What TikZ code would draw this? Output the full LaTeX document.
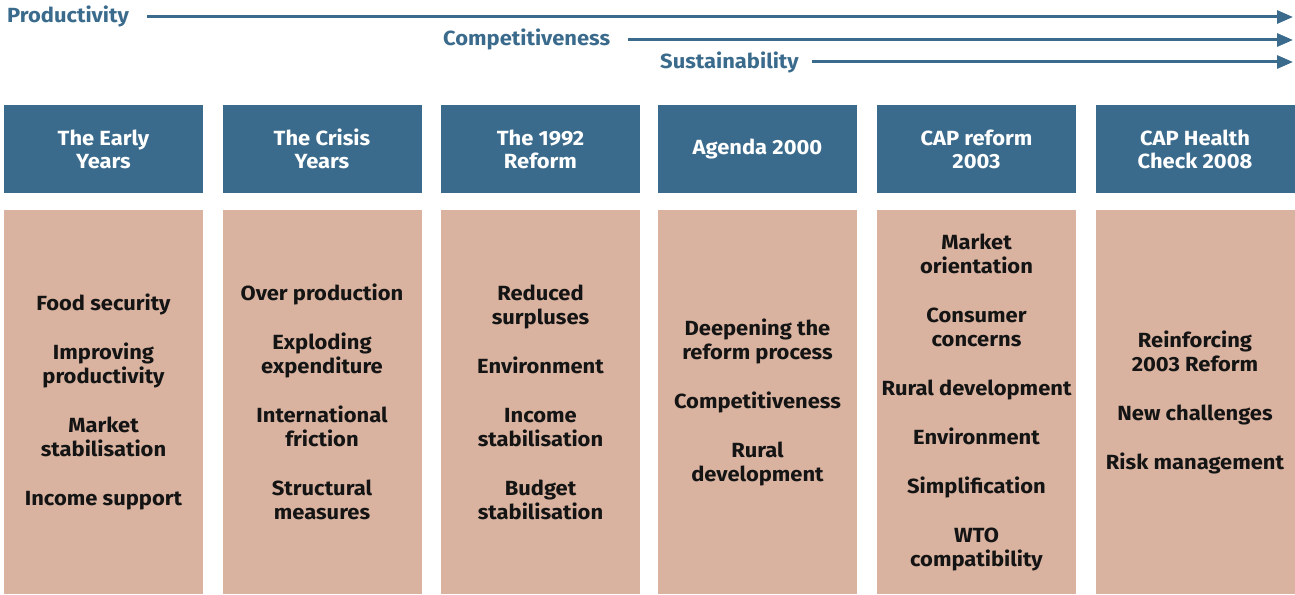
\documentclass[tikz,border=0pt]{standalone}
\usepackage{fontspec}
\setmainfont[FakeStretch=1.07]{Fira Sans}
\usetikzlibrary{arrows.meta}
\definecolor{capblue}{RGB}{59,107,140}
\definecolor{cappink}{RGB}{217,179,160}
\definecolor{captext}{RGB}{20,20,20}
\tikzset{
  headbox/.style={fill=capblue, minimum width=199pt, minimum height=88pt, inner sep=0pt,
    text=white, align=center, font=\bfseries\fontsize{20.5}{23}\selectfont},
  bodybox/.style={fill=cappink, minimum width=199pt, minimum height=384pt, inner sep=0pt,
    text=captext, align=center, font=\bfseries\fontsize{20.5}{24}\selectfont},
  toplabel/.style={anchor=west, inner sep=0pt, text=capblue, font=\bfseries\fontsize{20.5}{23}\selectfont},
  arr/.style={draw=capblue, line width=3pt, -{Triangle[length=16pt,width=13pt]}},
}
\newcommand{\gapline}{\\[25pt]}
\begin{document}
\begin{tikzpicture}[x=1pt,y=-1pt]
\useasboundingbox (0,0) rectangle (1295,594);
% top labels and arrows
\node[toplabel] (prod) at (7,16) {Productivity};
\node[toplabel] (comp) at (443,39) {Competitiveness};
\node[toplabel] (sust) at (660,62) {Sustainability};
\coordinate (prodend) at (1293,17);
\coordinate (compend) at (1293,40);
\coordinate (sustend) at (1293,62);
\draw[arr] ([xshift=18pt]prod.east |- prodend) -- (prodend);
\draw[arr] ([xshift=18pt]comp.east |- compend) -- (compend);
\draw[arr] ([xshift=13pt]sust.east |- sustend) -- (sustend);
% headers
\node[headbox] (h1) at (103.5,149) {The Early\\Years};
\node[headbox] (h2) at (322,149) {The Crisis\\Years};
\node[headbox] (h3) at (540.5,149) {The 1992\\Reform};
\node[headbox] (h4) at (757.5,149) {Agenda 2000};
\node[headbox] (h5) at (976.5,149) {CAP reform\\2003};
\node[headbox] (h6) at (1195,149) {CAP Health\\Check 2008};
% bodies
\node[bodybox] (b1) at (103.5,402) {Food security\gapline Improving\\productivity\gapline Market\\stabilisation\gapline Income support};
\node[bodybox] (b2) at (322,402) {Over production\gapline Exploding\\expenditure\gapline International\\friction\gapline Structural\\measures};
\node[bodybox] (b3) at (540.5,402) {Reduced\\surpluses\gapline Environment\gapline Income\\stabilisation\gapline Budget\\stabilisation};
\node[bodybox] (b4) at (757.5,402) {Deepening the\\reform process\gapline Competitiveness\gapline Rural\\development};
\node[bodybox] (b5) at (976.5,402) {Market\\orientation\gapline Consumer\\concerns\gapline Rural development\gapline Environment\gapline Simplification\gapline WTO\\compatibility};
\node[bodybox] (b6) at (1195,402) {Reinforcing\\2003 Reform\gapline New challenges\gapline Risk management};
\end{tikzpicture}
\end{document}
